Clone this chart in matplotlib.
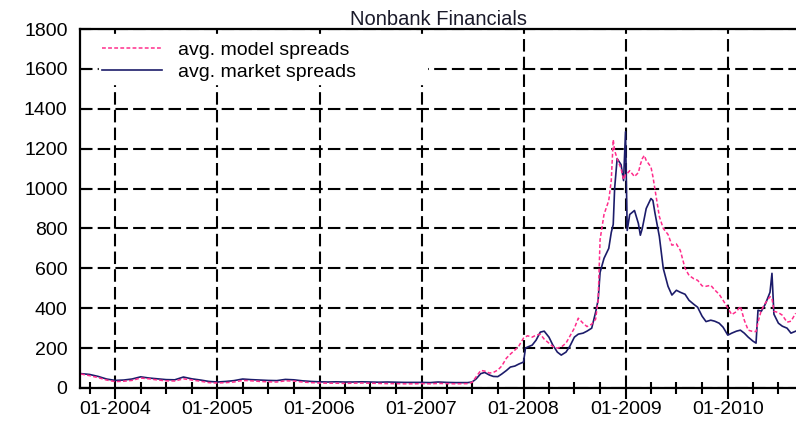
import matplotlib
matplotlib.use("Agg")
import matplotlib.pyplot as plt
import matplotlib.dates as mdates
import pandas as pd

plt.rcParams["font.family"] = ["Liberation Sans", "DejaVu Sans"]

# monthly averages, 2003-09 .. 2007-06
early_dates = pd.date_range("2003-09-01", "2007-06-01", freq="MS")
early_market = [72, 68, 58, 45,
                38, 40, 45, 56, 50, 46, 42, 41, 55, 46, 40, 33,
                30, 33, 37, 45, 42, 40, 38, 37, 43, 41, 36, 33,
                31, 30, 31, 30, 30, 31, 30, 29, 30, 29, 28, 28,
                28, 27, 30, 28, 27, 27]
early_model = [70, 62, 52, 40,
               32, 34, 38, 50, 46, 40, 36, 35, 46, 40, 34, 27,
               25, 27, 30, 38, 36, 33, 31, 30, 36, 35, 30, 27,
               25, 24, 24, 23, 24, 25, 24, 23, 22, 22, 21, 21,
               22, 21, 23, 22, 21, 22]

# finer sampling from mid 2007 on
late_dates = [
    "2007-06-15", "2007-07-01", "2007-07-15", "2007-08-01", "2007-08-15",
    "2007-09-01", "2007-09-15", "2007-10-01", "2007-10-15", "2007-11-01",
    "2007-11-15", "2007-12-01", "2007-12-15", "2008-01-01", "2008-01-08",
    "2008-01-15", "2008-02-01", "2008-02-15", "2008-03-01", "2008-03-15",
    "2008-04-01", "2008-04-15", "2008-05-01", "2008-05-15", "2008-06-01",
    "2008-06-15", "2008-07-01", "2008-07-15", "2008-08-01", "2008-08-15",
    "2008-09-01", "2008-09-15", "2008-09-24", "2008-10-01", "2008-10-15",
    "2008-11-01", "2008-11-10", "2008-11-17", "2008-11-22", "2008-12-01",
    "2008-12-15", "2008-12-24", "2008-12-31", "2009-01-06", "2009-01-15",
    "2009-02-01", "2009-02-15", "2009-02-22", "2009-03-01", "2009-03-08",
    "2009-03-15", "2009-04-01", "2009-04-08", "2009-04-15", "2009-05-01",
    "2009-05-15", "2009-06-01", "2009-06-15", "2009-07-01", "2009-07-15",
    "2009-08-01", "2009-08-15", "2009-09-01", "2009-09-15", "2009-10-01",
    "2009-10-15", "2009-11-01", "2009-11-15", "2009-12-01", "2009-12-15",
    "2010-01-01", "2010-01-15", "2010-02-01", "2010-02-15", "2010-03-01",
    "2010-03-15", "2010-04-01", "2010-04-12", "2010-04-19", "2010-05-01",
    "2010-05-15", "2010-06-01", "2010-06-08", "2010-06-15", "2010-07-01",
    "2010-07-15", "2010-08-01", "2010-08-15", "2010-09-01",
]
late_market = [
    27, 30, 45, 72, 78, 65, 58, 57, 70, 88,
    105, 110, 120, 130, 200, 205, 215, 240, 280, 285,
    255, 215, 180, 165, 180, 210, 255, 270, 275, 285,
    300, 380, 441, 580, 650, 700, 780, 820, 1000, 1150,
    1120, 1040, 1285, 790, 870, 890, 825, 766, 800, 850,
    900, 950, 940, 880, 760, 600, 510, 466, 490, 480,
    470, 440, 420, 405, 360, 333, 340, 335, 325, 305,
    265, 275, 285, 290, 275, 255, 235, 225, 390, 385,
    420, 480, 575, 370, 325, 310, 300, 275, 285,
]
late_model = [
    22, 28, 55, 88, 85, 75, 78, 90, 110, 150,
    170, 190, 210, 250, 255, 262, 255, 265, 270, 245,
    225, 208, 200, 205, 225, 260, 300, 350, 325, 308,
    320, 345, 441, 745, 870, 940, 1041, 1245, 1191, 1150,
    1100, 1045, 1070, 1075, 1090, 1060, 1080, 1120, 1150, 1166,
    1141, 1108, 1060, 1000, 860, 800, 770, 716, 722, 690,
    600, 565, 548, 540, 512, 510, 515, 492, 470, 440,
    400, 368, 383, 410, 340, 290, 283, 283, 330, 390,
    425, 458, 450, 385, 378, 365, 330, 335, 375,
]

dates = list(early_dates) + list(pd.to_datetime(late_dates))
market = early_market + late_market
model = early_model + late_model

fig = plt.figure(figsize=(7.96, 4.21), dpi=100)
ax = fig.add_axes([80 / 796, 33 / 421, 716 / 796, 359 / 421])

ax.plot(dates, model, color="#ff2d8c", lw=1.1, linestyle=(0, (2.5, 1.5)),
        label="avg. model spreads", zorder=3)
ax.plot(dates, market, color="#1c1c6a", lw=1.2,
        label="avg. market spreads", zorder=2)

ax.set_ylim(0, 1800)
ax.set_yticks(range(0, 1801, 200))
ax.set_xlim(pd.Timestamp("2003-08-28"), pd.Timestamp("2010-09-02"))
ax.xaxis.set_major_locator(mdates.YearLocator())
ax.xaxis.set_major_formatter(mdates.DateFormatter("%m-%Y"))
ax.xaxis.set_minor_locator(mdates.MonthLocator(bymonth=[1, 4, 7, 10]))

ax.set_axisbelow(True)
ax.grid(True, which="major", color="black", lw=1.5, linestyle=(0, (6, 2.5)))

for side in ["left", "top", "bottom"]:
    ax.spines[side].set_linewidth(1.6)
ax.spines["right"].set_visible(False)

ax.tick_params(axis="y", direction="in", length=8, width=1.5, pad=9, labelsize=14)
ax.tick_params(axis="x", which="major", direction="out", length=8, width=1.5,
               pad=1, labelsize=14)
ax.tick_params(axis="x", which="minor", direction="inout", length=9, width=1.5)

ax.set_title("Nonbank Financials", fontsize=14.5, color="#1a1a2a", pad=2)

leg = ax.legend(loc="upper left", bbox_to_anchor=(0.0266, 0.975, 0.458, 0.0),
                mode="expand", fontsize=14, frameon=True, fancybox=True,
                facecolor="white", edgecolor="white", framealpha=1,
                handlelength=3.1, handletextpad=0.8, borderpad=0.15,
                labelspacing=0.25, borderaxespad=0)
leg.set_zorder(5)

fig.savefig("out.png", dpi=100)
